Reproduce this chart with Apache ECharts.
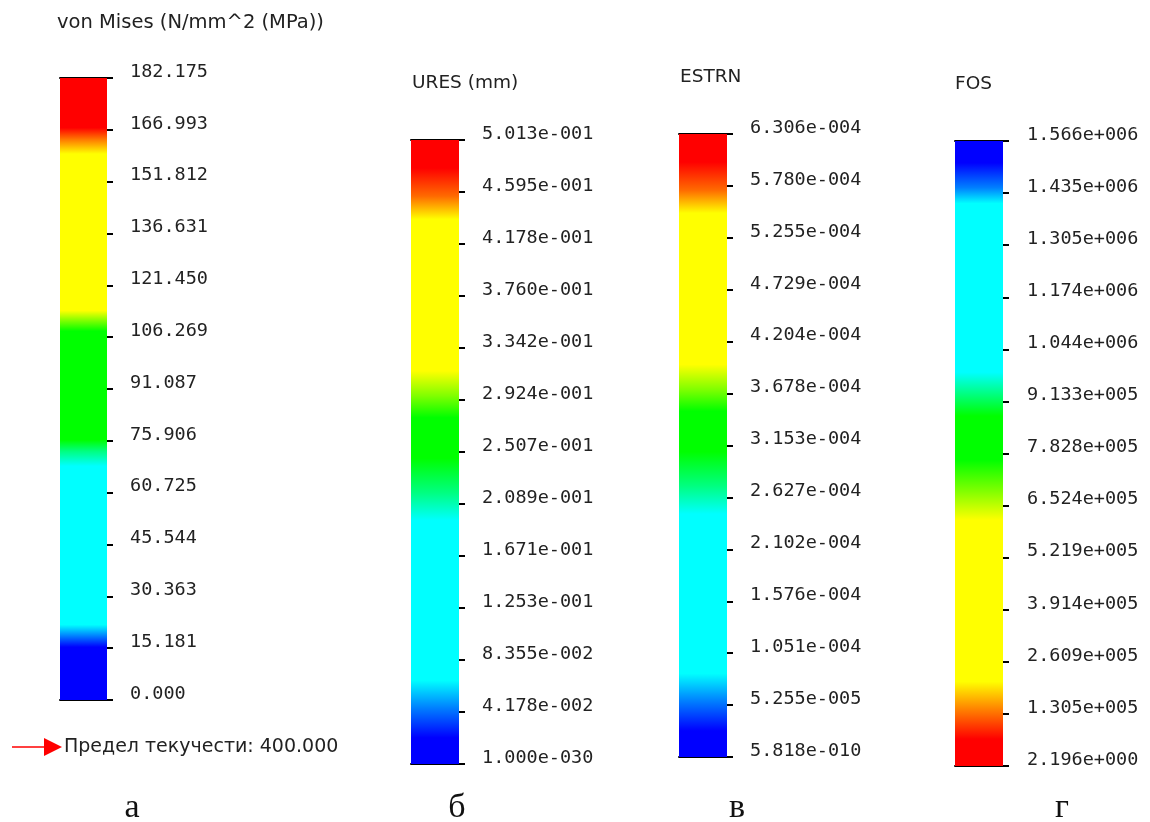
<!DOCTYPE html>
<html>
<head>
<meta charset="utf-8">
<script src="https://cdn.jsdelivr.net/npm/echarts@6/dist/echarts.min.js"></script>
<style>html,body{margin:0;padding:0;background:#fff}#c{width:1150px;height:822px}</style>
</head>
<body>
<div id="c"></div>
<script>
// Tick labels, top (max) to bottom (min)
const vonMisesLabels = ['182.175','166.993','151.812','136.631','121.450','106.269','91.087','75.906','60.725','45.544','30.363','15.181','0.000'];
const uresLabels = ['5.013e-001','4.595e-001','4.178e-001','3.760e-001','3.342e-001','2.924e-001','2.507e-001','2.089e-001','1.671e-001','1.253e-001','8.355e-002','4.178e-002','1.000e-030'];
const estrnLabels = ['6.306e-004','5.780e-004','5.255e-004','4.729e-004','4.204e-004','3.678e-004','3.153e-004','2.627e-004','2.102e-004','1.576e-004','1.051e-004','5.255e-005','5.818e-010'];
const fosLabels = ['1.566e+006','1.435e+006','1.305e+006','1.174e+006','1.044e+006','9.133e+005','7.828e+005','6.524e+005','5.219e+005','3.914e+005','2.609e+005','1.305e+005','2.196e+000'];
const titles = ['von Mises (N/mm^2 (MPa))','URES (mm)','ESTRN','FOS'];
const captions = ['а','б','в','г'];
const yieldText = 'Предел текучести: 400.000';
// number of intervals shown on each scale
const levels = [12, 12, 12, 12];

const R='#ff0000', O='#ff8000', Y='#ffff00', YG='#80ff00', G='#00ff00', GC='#00ff80', C='#00ffff', CB='#0080ff', B='#0000ff';
function stops(list){return list.map(function(s){return {offset:s[0],color:s[1]};});}
const gradA = stops([[0,R],[0.08,R],[0.10,O],[0.122,Y],[0.374,Y],[0.39,YG],[0.407,G],[0.582,G],[0.60,GC],[0.624,C],[0.879,C],[0.897,CB],[0.915,B],[1,B]]);
const gradB = stops([[0,R],[0.045,R],[0.09,'#ff6a00'],[0.127,Y],[0.37,Y],[0.41,YG],[0.445,G],[0.51,G],[0.565,GC],[0.61,C],[0.866,C],[0.91,CB],[0.958,B],[1,B]]);
const gradG = stops([[0,B],[0.035,B],[0.075,CB],[0.10,C],[0.37,C],[0.405,GC],[0.44,G],[0.51,G],[0.56,YG],[0.607,Y],[0.865,Y],[0.91,O],[0.957,R],[1,R]]);

const labelSets = [vonMisesLabels, uresLabels, estrnLabels, fosLabels];
const grads = [gradA, gradB, gradB, gradG];
const layout = [
  {left:60, top:78, width:47, height:622, margin:23, tx:57, ty:23, tf:19.5, cx:132, cy:808},
  {left:411, top:140, width:48, height:624, margin:23, tx:412, ty:83, tf:18.5, cx:457, cy:808},
  {left:679, top:134, width:48, height:623, margin:23, tx:680, ty:77, tf:18.5, cx:737, cy:808},
  {left:955, top:141, width:48, height:625, margin:24, tx:955, ty:84, tf:18.5, cx:1062, cy:808}
];

const chart = echarts.init(document.getElementById('c'), null, {renderer:'canvas'});
const grid=[], xAxis=[], yAxis=[], series=[], graphic=[];
layout.forEach(function(L, i){
  grid.push({left:L.left, top:L.top, width:L.width, height:L.height, containLabel:false});
  const axisBase = {type:'category', gridIndex:i, data:[titles[i]], boundaryGap:true,
    axisLabel:{show:false}, axisTick:{show:false}, splitLine:{show:false},
    axisLine:{show:true, lineStyle:{color:'#000', width:2}}};
  xAxis.push(Object.assign({position:'bottom'}, axisBase));
  xAxis.push(Object.assign({position:'top'}, axisBase));
  const labs = labelSets[i];
  const n = levels[i];
  yAxis.push({type:'value', gridIndex:i, position:'right', min:0, max:n, interval:1,
    axisLine:{show:false}, splitLine:{show:false},
    axisTick:{show:true, inside:false, length:6, lineStyle:{color:'#000', width:2}},
    axisLabel:{show:true, margin:L.margin, color:'#222', fontFamily:'DejaVu Sans Mono', fontSize:18.5,
      verticalAlign:'bottom', lineHeight:12,
      formatter:function(v){return labs[n-Math.round(v)];}}});
  series.push({type:'bar', xAxisIndex:i*2, yAxisIndex:i, data:[n], barWidth:'100%', barCategoryGap:0,
    silent:true, itemStyle:{color:{type:'linear', x:0, y:0, x2:0, y2:1, colorStops:grads[i]}}});
  graphic.push({type:'text', x:L.tx, y:L.ty, style:{text:titles[i], fill:'#222', font:L.tf+'px "DejaVu Sans"', verticalAlign:'middle'}});
  graphic.push({type:'text', x:L.cx, y:L.cy, style:{text:captions[i], fill:'#111', font:'34px "Liberation Serif"', align:'center', verticalAlign:'middle'}});
});
// yield strength marker
graphic.push({type:'line', shape:{x1:12, y1:747, x2:48, y2:747}, style:{stroke:'#ff0000', lineWidth:1.5}});
graphic.push({type:'polygon', shape:{points:[[44,738],[62,747],[44,756]]}, style:{fill:'#ff0000'}});
graphic.push({type:'text', x:64, y:747, style:{text:yieldText, fill:'#222', font:'19px "DejaVu Sans"', verticalAlign:'middle'}});

chart.setOption({backgroundColor:'#fff', animation:false, grid:grid, xAxis:xAxis, yAxis:yAxis, series:series, graphic:graphic});
</script>
</body>
</html>
